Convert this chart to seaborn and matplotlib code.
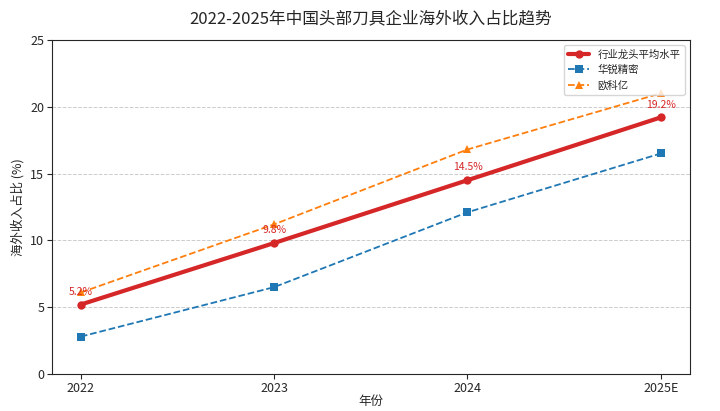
import matplotlib
matplotlib.use("Agg")
import matplotlib.pyplot as plt
import seaborn as sns
import pandas as pd

years = ["2022", "2023", "2024", "2025E"]
leader = [5.2, 9.8, 14.5, 19.2]
huarui = [2.8, 6.5, 12.1, 16.5]
oukeyi = [6.1, 11.2, 16.8, 21.0]

sns.set_style("ticks")
plt.rcParams['font.family'] = ['Noto Sans CJK SC', 'DejaVu Sans']

fig, ax = plt.subplots(figsize=(7.2, 4.11), dpi=100)
xs = list(range(len(years)))
df = pd.DataFrame({"x": xs, "leader": leader, "huarui": huarui, "oukeyi": oukeyi})

sns.lineplot(data=df, x="x", y="leader", ax=ax, color="#d62728", linewidth=3,
             marker="o", markersize=6, markeredgewidth=0, label="行业龙头平均水平")
sns.lineplot(data=df, x="x", y="huarui", ax=ax, color="#1f77b4", linewidth=1.3,
             linestyle="--", marker="s", markersize=6, markeredgewidth=0, label="华锐精密")
sns.lineplot(data=df, x="x", y="oukeyi", ax=ax, color="#ff7f0e", linewidth=1.3,
             linestyle="--", marker="^", markersize=6, markeredgewidth=0, label="欧科亿")

for x, v in zip(xs, leader):
    ax.annotate(f"{v}%", (x, v), textcoords="offset points", xytext=(0, 7),
                ha="center", fontsize=7.5, color="#d62728")

ax.set_xticks(xs)
ax.set_xticklabels(years)
ax.set_ylim(0, 25)
ax.set_xlim(-0.15, 3.15)
ax.yaxis.grid(True, linestyle="--", color="#cccccc", linewidth=0.7)
ax.set_xlabel("年份", fontsize=9, labelpad=0)
ax.set_ylabel("海外收入占比 (%)", fontsize=9, labelpad=4)
ax.set_title("2022-2025年中国头部刀具企业海外收入占比趋势", fontsize=12, pad=12)
ax.tick_params(labelsize=9, pad=2)
leg = ax.legend(loc="upper right", fontsize=7.5, frameon=True)

fig.subplots_adjust(left=0.072, right=0.958, top=0.903, bottom=0.09)
fig.savefig("out.png", dpi=100)
